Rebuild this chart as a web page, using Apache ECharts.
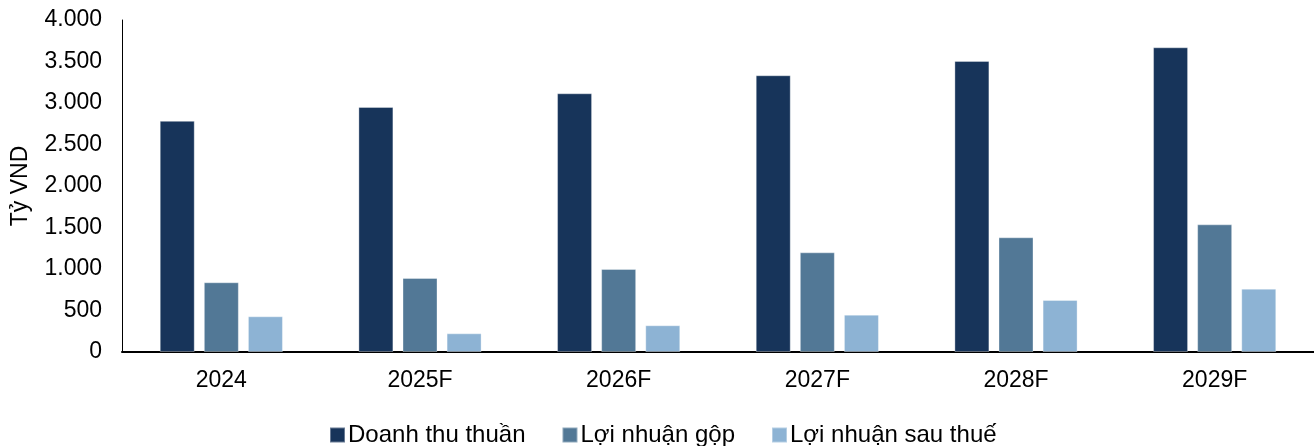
<!DOCTYPE html>
<html>
<head>
<meta charset="utf-8">
<script src="https://cdn.jsdelivr.net/npm/echarts@6/dist/echarts.min.js"></script>
<style>
  html, body { margin: 0; padding: 0; background: #fff; }
  #chart { width: 1314px; height: 446px; }
</style>
</head>
<body>
<div id="chart"></div>
<script>
// năm
var years = ['2024', '2025F', '2026F', '2027F', '2028F', '2029F']
// Tỷ VND
var doanhThu = [2785, 2952, 3117, 3334, 3507, 3671]
var loiNhuanGop = [840, 892, 1000, 1201, 1382, 1538]
var loiNhuanSauThue = [430, 225, 322, 450, 627, 763]
var yTicks = [0, 500, 1000, 1500, 2000, 2500, 3000, 3500, 4000]

var myChart = echarts.init(document.getElementById('chart'))

// 4000 -> 4.000
var fmt = function (v) {
  return String(v).replace(/\B(?=(\d{3})+$)/g, '.')
}

var barSeries = function (name, data, color) {
  return {
    name: name,
    type: 'bar',
    data: data,
    barWidth: 35,
    barGap: '26%',
    itemStyle: {
      color: color,
      borderColor: 'rgba(255,255,255,0.35)',
      borderWidth: 1
    }
  }
}

var option = {
  animation: false,
  textStyle: { fontFamily: 'Liberation Sans, Arial, sans-serif' },
  grid: { left: 122, right: 0, top: 20, bottom: 94 },
  legend: {
    top: 418,
    left: 324,
    itemWidth: 15,
    itemHeight: 15,
    itemGap: 36,
    icon: 'rect',
    textStyle: { fontSize: 24, color: '#000', padding: [0, 0, 0, -2] },
    data: ['Doanh thu thuần', 'Lợi nhuận gộp', 'Lợi nhuận sau thuế']
  },
  xAxis: {
    type: 'category',
    data: years,
    axisLine: { lineStyle: { color: '#000', width: 2 } },
    axisTick: { show: false },
    axisLabel: { color: '#000', fontSize: 23, margin: 17 }
  },
  yAxis: {
    type: 'value',
    min: yTicks[0],
    max: yTicks[yTicks.length - 1],
    interval: 500,
    name: 'Tỷ VND',
    nameLocation: 'middle',
    nameGap: 90,
    nameRotate: 90,
    nameTextStyle: { fontSize: 23, color: '#000' },
    axisLine: { show: true, lineStyle: { color: '#000', width: 1 } },
    axisTick: { show: false },
    splitLine: { show: false },
    axisLabel: { color: '#000', fontSize: 23, margin: 20, formatter: fmt }
  },
  series: [
    barSeries('Doanh thu thuần', doanhThu, '#17345A'),
    barSeries('Lợi nhuận gộp', loiNhuanGop, '#527896'),
    barSeries('Lợi nhuận sau thuế', loiNhuanSauThue, '#8DB3D4')
  ]
}

myChart.setOption(option)
</script>
</body>
</html>
